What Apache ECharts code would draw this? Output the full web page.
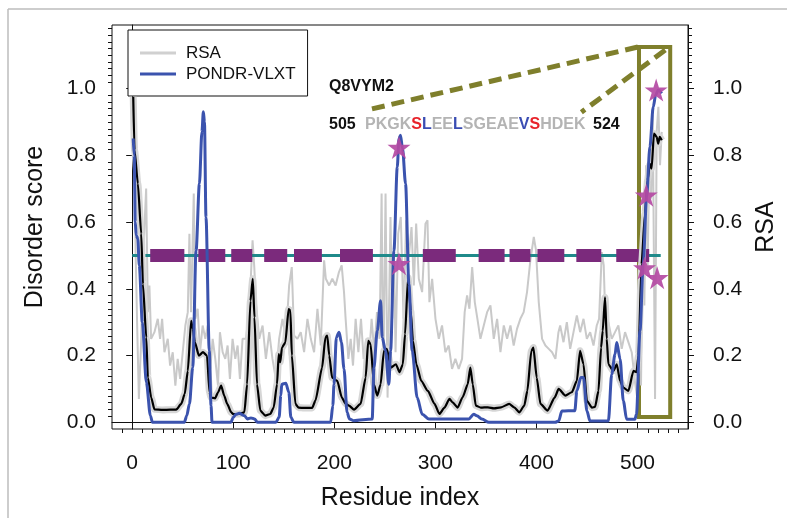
<!DOCTYPE html>
<html><head><meta charset="utf-8">
<script src="https://cdn.jsdelivr.net/npm/echarts@6/dist/echarts.min.js"></script>
<style>html,body{margin:0;padding:0;background:#fff}#c{width:787px;height:518px}</style>
</head><body><div id="c"></div>
<script>
// ---------- data ----------
const xMajorTicks = [0, 100, 200, 300, 400, 500];
const yMajorTicks = [0, 0.2, 0.4, 0.6, 0.8, 1.0];

// RSA per residue (grey, jagged)
const rsaValues = [
 [1,0.96],[2,0.9],[3.3,0.52],[4.9,0.29],[6.6,0.07],[8.9,0.25],[11.2,0.52],[13.8,0.70],[15.5,0.33],[17,0.41],[18.7,0.25],
 [22,0.27],[25.3,0.31],[27.6,0.25],[29.6,0.31],[31.9,0.21],[35.2,0.25],[37.5,0.17],[40.1,0.21],[42.7,0.11],[45,0.19],
 [47.4,0.13],[50,0.21],[52.6,0.29],[55,0.33],[56.6,0.565],[58.2,0.33],[60.9,0.685],[62.5,0.31],[64.8,0.34],[67.1,0.21],
 [69.7,0.29],[72.4,0.25],[74.7,0.29],[77.3,0.16],[79.6,0.25],[82.2,0.19],[84.9,0.11],[86.8,0.27],[89.5,0.21],[92.1,0.19],
 [94.4,0.23],[96.7,0.13],[99.3,0.25],[102,0.19],[104.3,0.23],[106.6,0.13],[109.2,0.25],[112.5,0.25],[115.8,0.33],[119.1,0.545],
 [120.8,0.465],[122.4,0.36],[125.7,0.25],[129,0.29],[132.3,0.19],[135.6,0.27],[138.8,0.19],[142.1,0.13],[145.4,0.25],[148.7,0.31],
 [152,0.25],[155.3,0.41],[157.9,0.465],[160.2,0.26],[163.5,0.25],[166.8,0.27],[170.1,0.21],[173.4,0.31],[176.7,0.25],[180,0.21],
 [183.3,0.34],[186.6,0.23],[189.9,0.485],[191.6,0.43],[194.9,0.41],[198,0.43],[201.3,0.41],[204.6,0.45],[207.3,0.47],[209.6,0.39],
 [211.2,0.31],[213.9,0.19],[216.2,0.25],[218.5,0.17],[221.1,0.31],[223.8,0.21],[226.4,0.31],[229,0.19],[231.7,0.25],[234.3,0.19],
 [236.9,0.31],[239.6,0.21],[242.2,0.33],[244.8,0.25],[246.8,0.685],[248.4,0.11],[250.7,0.685],[252.7,0.074],[255.6,0.615],[257.3,0.31],
 [258.9,0.515],[260.6,0.21],[263.2,0.565],[265.8,0.615],[268.5,0.31],[271.1,0.605],[273.7,0.495],[276.4,0.585],[278.7,0.41],[281,0.595],
 [283.6,0.43],[286.9,0.39],[290.2,0.595],[292.2,0.605],[294.1,0.36],[296.8,0.43],[300.1,0.31],[303.4,0.25],[306.6,0.29],[309.9,0.21],
 [313.2,0.23],[316.5,0.16],[319.8,0.19],[323.1,0.16],[326.4,0.19],[329,0.33],[331.4,0.38],[333.7,0.34],[336.4,0.465],[339,0.36],
 [341.6,0.31],[344.6,0.25],[347.9,0.29],[351.2,0.33],[354.5,0.35],[357.8,0.25],[361.1,0.31],[364.4,0.21],[367.7,0.29],[371,0.25],
 [374.3,0.29],[377.5,0.23],[380.8,0.28],[384.1,0.31],[387.4,0.33],[390.7,0.39],[394,0.485],[397.4,0.555],[399.6,0.515],[402.3,0.36],
 [405.6,0.25],[408.9,0.23],[412.2,0.22],[415.5,0.21],[418.8,0.19],[421.8,0.27],[423.5,0.29],[426.8,0.24],[430.1,0.30],[433.4,0.22],
 [436.7,0.27],[440,0.32],[443.3,0.27],[446.6,0.31],[449.9,0.25],[453.2,0.27],[456.5,0.23],[459.7,0.29],[462,0.31],[464.7,0.51],
 [466.6,0.47],[468.6,0.27],[471.2,0.30],[474.5,0.25],[477.8,0.27],[481.1,0.29],[484.4,0.22],[487.7,0.27],[491,0.24],[494.3,0.21],
 [497.6,0.12],[499.9,0.07],[501.9,0.37],[503.5,0.11],[505.2,0.57],[506.8,0.35],[508.5,0.77],[510.1,0.47],[511.8,0.82],[513.4,0.67],
 [515.1,0.92],[517.4,0.07],[519,0.87],[520.7,0.945],[522.3,0.77],[524,0.87]
];

// windowed average RSA (black)
const rsaAverage = [
 [1,0.975],[2.3,0.815],[5.6,0.715],[8.9,0.565],[10.6,0.414],[13.9,0.254],[15.5,0.134],[18.8,0.074],[22,0.039],[30,0.037],
 [38,0.038],[43.5,0.038],[48.5,0.055],[52,0.085],[55,0.154],[58.3,0.304],[60,0.28],[62,0.24],[66,0.2],[70,0.21],[74,0.2],
 [76.5,0.09],[78,0.074],[82,0.072],[85,0.09],[88,0.11],[91,0.08],[94,0.055],[98,0.03],[100,0.025],[106,0.025],[111,0.03],
 [113.7,0.114],[117,0.364],[119.3,0.43],[121,0.314],[123.5,0.114],[126.8,0.035],[131.7,0.02],[136.6,0.025],[140,0.044],[143.3,0.114],
 [145,0.204],[146.5,0.18],[148.2,0.224],[151.5,0.239],[154.8,0.339],[156.5,0.335],[158,0.2],[161.5,0.055],[164.7,0.044],[170,0.043],
 [178,0.043],[181.3,0.065],[187.9,0.164],[191.2,0.254],[193,0.26],[195,0.2],[197.8,0.134],[202.9,0.124],[207.5,0.074],[211.3,0.055],
 [214.5,0.05],[219.5,0.038],[226,0.055],[231,0.134],[233.6,0.244],[235.9,0.234],[239.2,0.114],[242.5,0.08],[245.8,0.114],[249.1,0.214],
 [252,0.22],[256,0.164],[261,0.174],[264.5,0.15],[267.8,0.174],[270,0.264],[273,0.434],[275.6,0.334],[277.8,0.244],[281.2,0.174],
 [286,0.124],[292.6,0.094],[299.2,0.055],[304,0.025],[309,0.044],[314,0.07],[317,0.06],[322,0.044],[327,0.075],[332,0.114],
 [334.6,0.164],[337,0.114],[340,0.05],[345,0.044],[352,0.045],[358,0.042],[365,0.045],[373,0.055],[378,0.045],[383,0.03],
 [388,0.05],[391,0.094],[395,0.214],[397,0.224],[400.3,0.134],[404,0.055],[411,0.035],[418,0.074],[422,0.1],[428.7,0.08],
 [435,0.09],[440,0.124],[443.2,0.214],[446.6,0.174],[450,0.064],[455,0.044],[458,0.046],[461.4,0.094],[464,0.224],[465.6,0.274],
 [467.9,0.374],[469.6,0.25],[471.2,0.174],[476.2,0.154],[479.5,0.174],[482.8,0.124],[486,0.104],[491,0.094],[496,0.154],[499,0.15],
 [501,0.2],[504,0.474],[507.4,0.624],[510,0.725],[512.3,0.774],[514,0.76],[516.3,0.865],[519,0.855],[520.5,0.835],[522,0.855],[524,0.845]
];

// PONDR-VLXT disorder score (blue)
const pondrVLXT = [
 [1,0.85],[2,0.8],[3,0.6],[4,0.56],[5.5,0.55],[7,0.47],[10,0.3],[14,0.12],[18,0.02],[20,0.0],[51.6,0.0],[54,0.02],[56.6,0.055],
 [59.9,0.164],[63.2,0.514],[66.5,0.715],[69,0.87],[70.4,0.93],[71.5,0.9],[73,0.614],[76.3,0.214],[78,0.05],[79,0.0],[97.7,0.0],
 [100,0.015],[102.7,0.024],[106,0.027],[111,0.02],[114,0.01],[117.5,0.013],[121,0.01],[124,0.0],[142.1,0.0],[145.4,0.015],[147,0.08],
 [148,0.114],[152,0.117],[155,0.09],[157,0.015],[160,0.0],[196.4,0.0],[198.5,0.05],[199.7,0.114],[202,0.254],[204.7,0.27],[207,0.24],
 [209.6,0.16],[212.6,0.03],[215,0.01],[219,0.005],[237.5,0.01],[239.2,0.164],[242.5,0.274],[245.8,0.364],[247.4,0.254],[250.7,0.214],
 [254,0.114],[255.7,0.214],[259,0.514],[262.3,0.765],[264,0.85],[265.5,0.86],[267.5,0.82],[270.5,0.715],[273.8,0.414],[277.1,0.214],
 [282,0.074],[287,0.024],[293.6,0.01],[333,0.01],[338,0.024],[341,0.02],[346,0.01],[353,0.0],[418.6,0.0],[422,0.004],[425.2,0.034],
 [438,0.035],[440,0.094],[444,0.134],[446.6,0.134],[450,0.034],[453,0.004],[471.2,0.004],[474.5,0.144],[477.8,0.204],[479.5,0.239],
 [482.8,0.19],[486,0.064],[489.3,0.009],[497.5,0.009],[499,0.024],[502.5,0.274],[505.7,0.474],[509,0.674],[512.3,0.825],[515.6,0.945],
 [518,0.98],[520.5,0.995],[524,0.985]
];

// star markers (phosphorylation sites)
const starPoints = [[264,0.823],[264,0.475],[518.5,0.995],[508.7,0.68],[507,0.462],[519.5,0.433]];

// purple threshold segments at 0.5
const thresholdLevel = 0.5;
const thresholdSegments = [[17.8,51.6],[65.4,92.1],[98,118.8],[130.6,153.4],[160.1,187.7],[205.6,238.2],[287.6,320.2],
 [342.8,368.5],[373.4,394.1],[401,427.6],[439.5,464.2],[479,511.6]];
const thresholdLine = [[0,0.5],[523,0.5]];

// zoom box region and connector lines
const zoomBox = [[501.5,1.124],[532.4,0.016]];
const connectors = [[[500.4,1.124],[232,0.935]],[[527.5,1.115],[444.5,0.929]]];

const proteinId = 'Q8VYM2';
const seqStart = 505, seqEnd = 524;

// ---------- chart ----------
const FONT = 'Liberation Sans, Arial, Helvetica, sans-serif';
const purpleData = [];
thresholdSegments.forEach((s,i)=>{ if(i) purpleData.push(['-','-']); purpleData.push([s[0],thresholdLevel],[s[1],thresholdLevel]); });

const XMIN=-20, XMAX=550, YMIN=-0.02, YMAX=1.19;
const TICK = {color:'#111', width:1};

const chart = echarts.init(document.getElementById('c'), null, {renderer:'canvas'});
function yAxisDef(pos, name, margin, gap){
  return {type:'value',min:YMIN,max:YMAX,position:pos,
    axisLine:{show:true,lineStyle:TICK},
    axisTick:{show:true,customValues:yMajorTicks,length:6,lineStyle:TICK},
    axisLabel:{customValues:yMajorTicks,formatter:v=>v.toFixed(1),fontFamily:FONT,fontSize:21,color:'#111',margin:margin},
    splitLine:{show:false},
    name:name,nameLocation:'middle',nameGap:gap,nameRotate:90,nameTextStyle:{fontFamily:FONT,fontSize:25,color:'#111'}};
}
const baseGraphic = [
  {id:'bt',type:'line',shape:{x1:8,y1:9,x2:787,y2:9},style:{stroke:'#bdbdbd',lineWidth:1.5},silent:true},
  {id:'bl',type:'line',shape:{x1:8,y1:9,x2:8,y2:518},style:{stroke:'#bdbdbd',lineWidth:1.5},silent:true},
  {id:'pid',type:'text',left:329,top:79,style:{text:proteinId,font:'bold 16px '+FONT,fill:'#111'}},
  {id:'s0',type:'text',left:329,top:117,style:{text:String(seqStart),font:'bold 16px '+FONT,fill:'#111'}},
  {id:'seq',type:'text',left:365,top:117,style:{
    text:'{g|PKGK}{r|S}{b|L}{g|EE}{b|L}{g|SGEAE}{b|V}{r|S}{g|HDEK}',
    font:'bold 16px '+FONT,
    rich:{g:{fill:'#b4b4b4',font:'bold 16px '+FONT},r:{fill:'#e8232b',font:'bold 16px '+FONT},b:{fill:'#3a4db3',font:'bold 16px '+FONT}}}},
  {id:'s1',type:'text',left:593,top:117,style:{text:String(seqEnd),font:'bold 16px '+FONT,fill:'#111'}}
];
const option = {
  animation:false,
  backgroundColor:'#fff',
  grid:{left:112,right:96,top:25,bottom:89,show:true,borderColor:'#111',borderWidth:1},
  legend:{
    data:[{name:'RSA',itemStyle:{color:'#d0d0d0'}},{name:'PONDR-VLXT',itemStyle:{color:'#3b53ae'}}],
    icon:'rect',
    orient:'vertical',left:128,top:30,
    backgroundColor:'#fff',borderColor:'#111',borderWidth:1,padding:[14,12,13,12],
    itemWidth:36,itemHeight:3,itemGap:3,
    textStyle:{fontFamily:FONT,fontSize:17,color:'#111',padding:[0,0,0,5],lineHeight:18}
  },
  xAxis:[
    {type:'value',min:XMIN,max:XMAX,position:'bottom',
     axisLine:{show:true,lineStyle:TICK},
     axisTick:{show:true,customValues:xMajorTicks,length:6,lineStyle:TICK},
     axisLabel:{customValues:xMajorTicks,fontFamily:FONT,fontSize:21,color:'#111',margin:24},
     splitLine:{show:false},
     name:'Residue index',nameLocation:'middle',nameGap:57,nameTextStyle:{fontFamily:FONT,fontSize:25,color:'#111'}}
  ],
  yAxis:[
    yAxisDef('left','Disorder score',16,64),
    yAxisDef('right','RSA',25,66)
  ],
  series:[
    {name:'RSA',type:'line',data:rsaValues,yAxisIndex:1,symbol:'none',lineStyle:{color:'#c9c9c9',width:2},itemStyle:{color:'#d0d0d0'},z:2},
    {name:'threshold',type:'line',data:thresholdLine,symbol:'none',lineStyle:{color:'#1f8a8a',width:3},z:3,silent:true},
    {name:'segments',type:'line',data:purpleData,symbol:'none',connectNulls:false,lineStyle:{color:'#7b2a7c',width:13,cap:'butt'},z:4,silent:true},
    {name:'RSA band',type:'line',data:rsaAverage,yAxisIndex:1,symbol:'none',smooth:0.2,smoothMonotone:'x',lineStyle:{color:'#d6d6d6',width:7},z:5,silent:true},
    {name:'RSA avg',type:'line',data:rsaAverage,yAxisIndex:1,symbol:'none',smooth:0.2,smoothMonotone:'x',lineStyle:{color:'#000',width:2.2},z:6},
    {name:'PONDR-VLXT',type:'line',data:pondrVLXT,symbol:'none',smooth:0.3,smoothMonotone:'x',lineStyle:{color:'#3b53ae',width:3},itemStyle:{color:'#3b53ae'},z:7,
      markArea:{silent:true,itemStyle:{color:'rgba(0,0,0,0)',borderColor:'#7f7f2c',borderWidth:4},
        data:[[{coord:zoomBox[0]},{coord:zoomBox[1]}]]},
      markLine:{silent:true,symbol:['none','none'],label:{show:false},lineStyle:{color:'#7f7f2c',width:5,type:[13,7]},
        data:connectors.map(c=>[{coord:c[0]},{coord:c[1]}])}
    },
    {name:'sites',type:'scatter',data:starPoints,symbol:'path://M50,0 L61.8,35.3 L98.9,35.3 L68.9,57.1 L80.3,92.4 L50,70.6 L19.7,92.4 L31.1,57.1 L1.1,35.3 L38.2,35.3 Z',
      symbolSize:23,itemStyle:{color:'#b44aa3',opacity:0.92},z:8}
  ],
  graphic:baseGraphic
};
chart.setOption(option);

// minor ticks (every 10 residues / 0.02 units), placed through the grid's own scales
function toPx(x, y){
  const p = chart.convertToPixel({gridIndex:0}, [x, y]);
  return Array.isArray(p) ? p : [NaN, NaN];
}
const minorLines = [];
const corner0 = toPx(XMIN, YMIN), corner1 = toPx(XMAX, YMAX);
if (isFinite(corner0[0]) && isFinite(corner1[0])) {
  for (let k = -1; k <= 54; k++) {
    if (k % 10 === 0) continue;
    const px = Math.round(toPx(k*10, YMIN)[0]) + 0.5;
    minorLines.push({type:'line',z:100,shape:{x1:px,y1:corner0[1],x2:px,y2:corner0[1]+4},style:{stroke:'#111',lineWidth:1}});
  }
  for (let k = 0; k <= 59; k++) {
    if (k % 10 === 0) continue;
    const py = Math.round(toPx(0, k*0.02)[1]) + 0.5;
    minorLines.push({type:'line',z:100,shape:{x1:corner0[0]-4,y1:py,x2:corner0[0],y2:py},style:{stroke:'#111',lineWidth:1}});
    minorLines.push({type:'line',z:100,shape:{x1:corner1[0],y1:py,x2:corner1[0]+4,y2:py},style:{stroke:'#111',lineWidth:1}});
  }
  chart.setOption({graphic: baseGraphic.concat([{id:'minorTicks',type:'group',silent:true,z:100,children:minorLines}])});
}
</script></body></html>
